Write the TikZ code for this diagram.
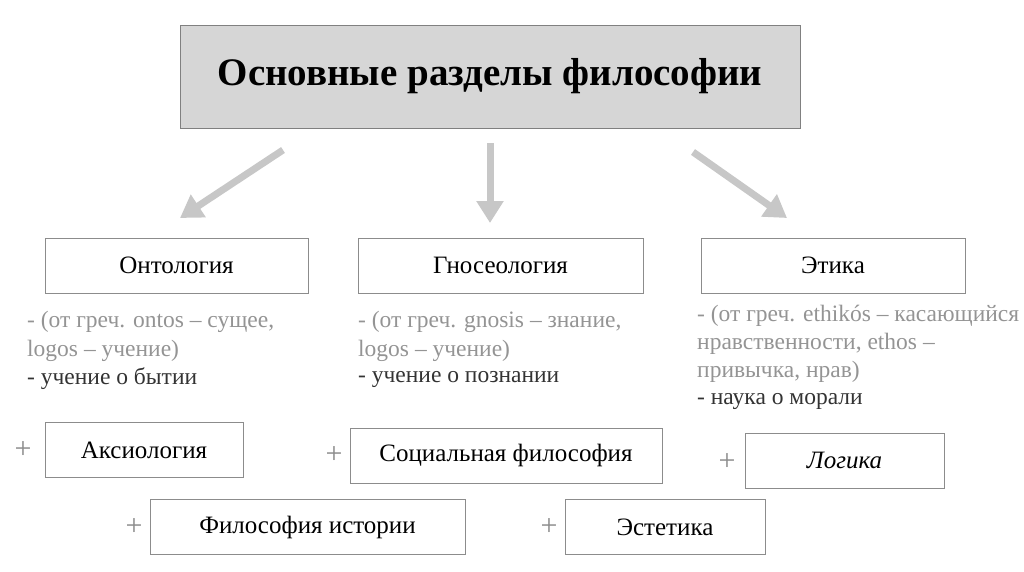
\documentclass[tikz,border=0pt]{standalone}
\usepackage{fontspec}
\setmainfont{Liberation Serif}
\usetikzlibrary{arrows.meta}
\begin{document}
\begin{tikzpicture}[x=1pt,y=-1pt,
  box/.style={draw=black!45,line width=0.8pt,fill=white,minimum height=55pt,font=\fontsize{25}{28}\selectfont},
  note/.style={anchor=west,text=black!42,font=\fontsize{23.5}{26}\selectfont,inner sep=0pt},
  dnote/.style={note,text=black!80},
  plus/.style={text=black!45,font=\fontsize{30}{30}\selectfont},
  arr/.style={draw=black!22,line width=7pt,-{Triangle[length=22pt,width=26pt]}}]
\useasboundingbox (0,0) rectangle (1024,571);
\node[draw=black!50,fill=black!16,line width=0.8pt,minimum width=620pt,minimum height=103pt,font=\fontsize{39}{44}\selectfont\bfseries] (title) at (490,76.5) {Основные разделы философии};
\node[box,minimum width=263pt] (ont) at (176.5,265.5) {Онтология};
\node[box,minimum width=285pt] (gno) at (500.5,265.5) {Гносеология};
\node[box,minimum width=264pt] (eti) at (833,265.5) {Этика};
\node[box,minimum width=198pt] (aks) at (144,450) {Аксиология};
\node[box,minimum width=312pt] (soc) at (506,455.5) {Социальная философия};
\node[box,minimum width=199pt] (log) at (844.5,460.5) {\itshape Логика};
\node[box,minimum width=315pt] (fil) at (307.5,527) {Философия истории};
\node[box,minimum width=200pt] (est) at (665,527) {Эстетика};
\node[plus] (p1) at (23,450) {+};
\node[plus] (p2) at (334,455) {+};
\node[plus] (p3) at (727,462) {+};
\node[plus] (p4) at (134,527) {+};
\node[plus] (p5) at (549,527) {+};
\coordinate (a1s) at (283,150); \coordinate (a1e) at (180,218);
\coordinate (a2s) at (490,143); \coordinate (a2e) at (490,223);
\coordinate (a3s) at (693,152); \coordinate (a3e) at (787,218);
\draw[arr] (a1s) -- (a1e);
\draw[arr] (a2s) -- (a2e);
\draw[arr] (a3s) -- (a3e);
\node[note] (o1) at (27,322) {- (от греч. ontos – сущее,};
\node[note] (o2) at (27,351) {logos – учение)};
\node[dnote] (o3) at (27,379) {- учение о бытии};
\node[note] (g1) at (358,322) {- (от греч. gnosis – знание,};
\node[note] (g2) at (358,351) {logos – учение)};
\node[dnote] (g3) at (358,379) {- учение о познании};
\node[note] (e1) at (697,316) {- (от греч. ethikós – касающийся};
\node[note] (e2) at (697,344) {нравственности, ethos –};
\node[note] (e3) at (697,372) {привычка, нрав)};
\node[dnote] (e4) at (697,401) {- наука о морали};
\end{tikzpicture}
\end{document}
